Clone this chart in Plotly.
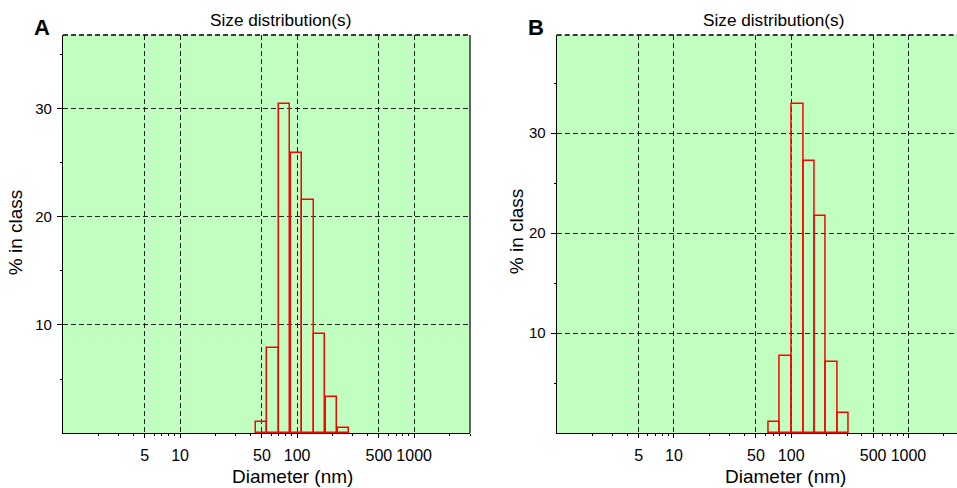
import numpy as np
import plotly.graph_objects as go

# ---------------- data ----------------
# Panel A: bin centres (nm) and % in class
diam_a = [49.4, 62.2, 78.5, 98.5, 124.0, 156.0, 196.5, 248.0]
pct_a = [1.05, 7.9, 30.45, 25.95, 21.55, 9.15, 3.35, 0.45]

# Panel B: bin centres (nm) and % in class
diam_b = [71.8, 89.6, 114.0, 142.0, 177.4, 221.0, 279.0]
pct_b = [1.13, 7.73, 32.9, 27.2, 21.7, 7.07, 1.97]

x_tick_vals = [5, 10, 50, 100, 500, 1000]
x_tick_text = ["5", "10", "50", "100", "500", "1000"]
x_minor_vals = [2, 3, 4, 6, 7, 8, 9, 20, 30, 40, 60, 70, 80, 90,
                200, 300, 400, 600, 700, 800, 900, 2000, 3000]
y_tick_vals = [10, 20, 30]
y_tick_text = ["10", "20", "30"]
y_minor_vals = [5, 15, 25, 35]

BIN_DECADES = 0.097  # drawn bar width in decades (log10 units)

# ---------------- helpers ----------------
FONT = "Liberation Sans, Arial, Helvetica, sans-serif"
BG = "#C0FFC0"
GRID = "rgba(0,0,0,0.85)"


def log_bar(diam, pct, xa, ya):
    d = np.asarray(diam, dtype=float)
    lo = d * 10 ** (-BIN_DECADES / 2)
    hi = d * 10 ** (BIN_DECADES / 2)
    return go.Bar(
        x=(lo + hi) / 2, y=pct, width=hi - lo,
        marker=dict(color="rgba(0,0,0,0)", line=dict(color="#FF0000", width=1.5)),
        xaxis=xa, yaxis=ya, showlegend=False,
        hovertext=[f"{v:g} nm" for v in diam], hoverinfo="text+y",
    )


fig = go.Figure()
fig.add_trace(log_bar(diam_a, pct_a, "x", "y"))
fig.add_trace(log_bar(diam_b, pct_b, "x2", "y2"))


def xaxis(domain, rng, anchor):
    return dict(
        type="log", domain=domain, range=rng, anchor=anchor,
        tickmode="array", tickvals=x_tick_vals, ticktext=x_tick_text,
        ticks="outside", ticklen=4, tickwidth=1, tickcolor="black",
        showline=True, linecolor="black", linewidth=1.2, mirror=False,
        showgrid=True, gridcolor=GRID, gridwidth=1, griddash="5px,3px",
        zeroline=False, ticklabelstandoff=4,
        tickfont=dict(family=FONT, size=16, color="black"),
        minor=dict(tickmode="array", tickvals=x_minor_vals, ticks="outside",
                   ticklen=2, tickwidth=1, tickcolor="black", showgrid=False),
    )


def yaxis(domain, rng, anchor):
    return dict(
        domain=domain, range=rng, anchor=anchor,
        tickmode="array", tickvals=y_tick_vals, ticktext=y_tick_text,
        ticks="outside", ticklen=5, tickwidth=1, tickcolor="black",
        showline=True, linecolor="black", linewidth=1.2, mirror=False,
        showgrid=True, gridcolor=GRID, gridwidth=1, griddash="5px,3px",
        zeroline=False, ticklabelstandoff=2,
        tickfont=dict(family=FONT, size=15, color="black"),
        minor=dict(tickmode="array", tickvals=y_minor_vals, ticks="outside",
                   ticklen=2, tickwidth=1, tickcolor="black", showgrid=False),
    )


W, H = 957, 488
ML, MR, MT, MB = 63, 0, 35, 55
PW, PH = W - ML - MR, H - MT - MB


def px(x):
    return (x - ML) / PW


def py(y):
    return (H - MB - y) / PH


fig.update_layout(
    width=W, height=H,
    margin=dict(l=ML, r=MR, t=MT, b=MB),
    paper_bgcolor="white", plot_bgcolor=BG,
    font=dict(family=FONT, color="black"),
    xaxis=xaxis([0, px(470)], [0, np.log10(3000)], "y"),
    yaxis=yaxis([0, 1], [0, 36.85], "x"),
    xaxis2=xaxis([px(556.7), 1], [0, 3.414], "y2"),
    yaxis2=yaxis([0, 1], [0, 39.8], "x2"),
    bargap=0,
)

# borders: dashed top edge, solid right edge (panel A)
shapes = []
for xr, yr in (("x", "y"), ("x2", "y2")):
    shapes.append(dict(type="line", xref=f"{xr} domain", yref=f"{yr} domain",
                       x0=0, x1=1, y0=1, y1=1,
                       line=dict(color="black", width=1.5, dash="5px,3px")))
shapes.append(dict(type="line", xref="x domain", yref="y domain",
                   x0=1, x1=1, y0=0, y1=1, line=dict(color="black", width=1.2)))
fig.update_layout(shapes=shapes)

ann = []
# panel letters
ann.append(dict(text="<b>A</b>", x=px(42), y=py(27.5), font=dict(size=22)))
ann.append(dict(text="<b>B</b>", x=px(536.3), y=py(27.5), font=dict(size=22)))
# titles
for cx in (280, 773):
    ann.append(dict(text="Size distribution(s)", x=px(cx), y=py(20),
                    font=dict(size=17.2)))
# x titles
for cx in (292, 785.8):
    ann.append(dict(text="Diameter (nm)", x=px(cx), y=py(476.5),
                    font=dict(size=19)))
# y titles
for cx, cy in ((15.7, 232.5), (516.2, 231)):
    ann.append(dict(text="% in class", x=px(cx), y=py(cy), textangle=-90,
                    font=dict(size=19)))
for a in ann:
    a.update(xref="paper", yref="paper", xanchor="center", yanchor="middle",
             showarrow=False)
    a["font"].update(family=FONT, color="black")
fig.update_layout(annotations=ann)

fig.write_html(
    "out.html",
    config={"displayModeBar": False},
    post_script="document.body.style.margin='0';document.body.style.padding='0';",
)
